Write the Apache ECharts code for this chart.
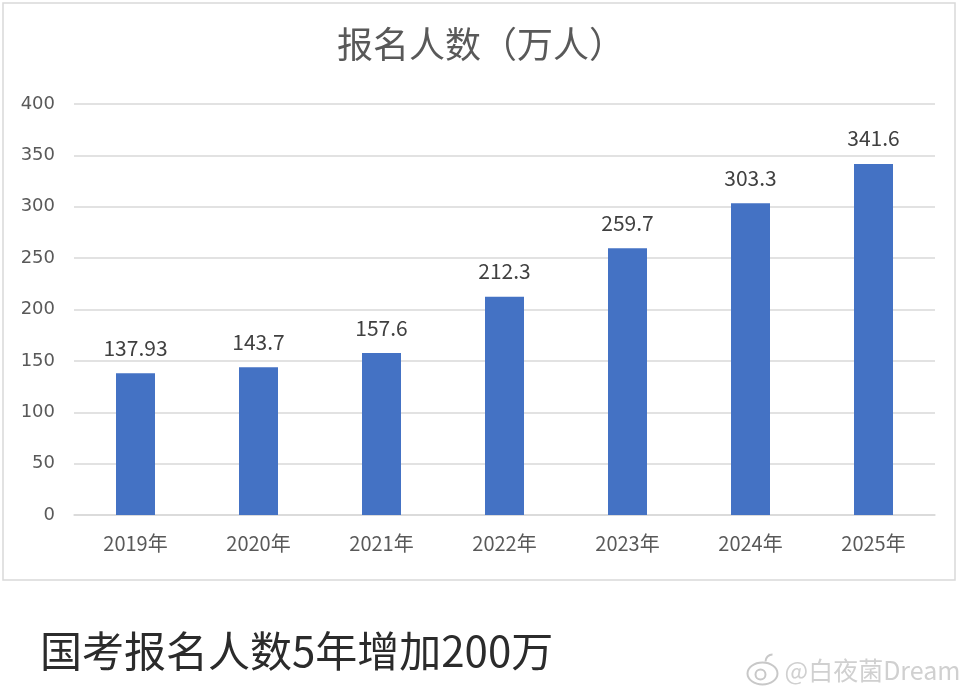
<!DOCTYPE html>
<html><head><meta charset="utf-8">
<script src="https://cdn.jsdelivr.net/npm/echarts@6/dist/echarts.min.js"></script>
<style>html,body{margin:0;padding:0;background:#fff}#c{width:968px;height:689px}</style>
</head><body><div id="c"></div>
<script>
const categories = ['2019年','2020年','2021年','2022年','2023年','2024年','2025年'];
const values = [137.93, 143.7, 157.6, 212.3, 259.7, 303.3, 341.6];
const labels = ['137.93','143.7','157.6','212.3','259.7','303.3','341.6'];
const titleText = '报名人数（万人）';
const captionText = '国考报名人数5年增加200万';
const watermarkText = '@白夜菌Dream';
const F = '"Noto Sans CJK SC", "Noto Sans", sans-serif';

const chart = echarts.init(document.getElementById('c'));
chart.setOption({
  animation: false,
  backgroundColor: '#fff',
  title: {
    text: titleText, left: 476, top: 21, textAlign: 'center',
    textStyle: {fontFamily: F, fontSize: 36, fontWeight: 'normal', color: '#595959'}
  },
  grid: {left: 74, right: 33, top: 104, bottom: 174, containLabel: false},
  xAxis: {
    type: 'category', data: categories,
    axisLine: {lineStyle: {color: '#d9d9d9', width: 1.5}},
    axisTick: {show: false},
    axisLabel: {fontFamily: F, fontSize: 20, color: '#595959', margin: 18}
  },
  yAxis: {
    type: 'value', min: 0, max: 400, interval: 50,
    axisLine: {show: false}, axisTick: {show: false},
    splitLine: {lineStyle: {color: '#d9d9d9', width: 1.5}},
    axisLabel: {fontFamily: '"DejaVu Sans", sans-serif', fontSize: 18, color: '#595959', margin: 19}
  },
  series: [{
    type: 'bar', data: values, barWidth: 39,
    itemStyle: {color: '#4472c4'},
    label: {
      show: true, position: 'top', distance: 15,
      fontFamily: F, fontSize: 21, color: '#404040',
      formatter: p => labels[p.dataIndex]
    }
  }],
  graphic: [
    {type: 'rect', shape: {x: 3, y: 3, width: 952, height: 577},
     style: {fill: 'none', stroke: '#d9d9d9', lineWidth: 1.5}, z: -1},
    {type: 'text', left: 40, top: 630,
     style: {text: captionText, font: '42px ' + F, fill: '#2b2b2b'}},
    {type: 'group', left: 745, top: 652, children: [
      {type: 'ellipse', shape: {cx: 16, cy: 20, rx: 15, ry: 11},
       style: {fill: 'none', stroke: '#c8c8c8', lineWidth: 2}},
      {type: 'circle', shape: {cx: 14, cy: 21, r: 5},
       style: {fill: 'none', stroke: '#c8c8c8', lineWidth: 2}},
      {type: 'arc', shape: {cx: 26, cy: 8, r: 7, startAngle: -Math.PI, endAngle: -Math.PI/2},
       style: {fill: 'none', stroke: '#c8c8c8', lineWidth: 2}},
      {type: 'text', x: 38, y: 4,
       style: {text: watermarkText, font: '25px ' + F, fill: '#d0d0d0', stroke: '#ffffff', lineWidth: 2}}
    ]}
  ]
});
</script></body></html>
